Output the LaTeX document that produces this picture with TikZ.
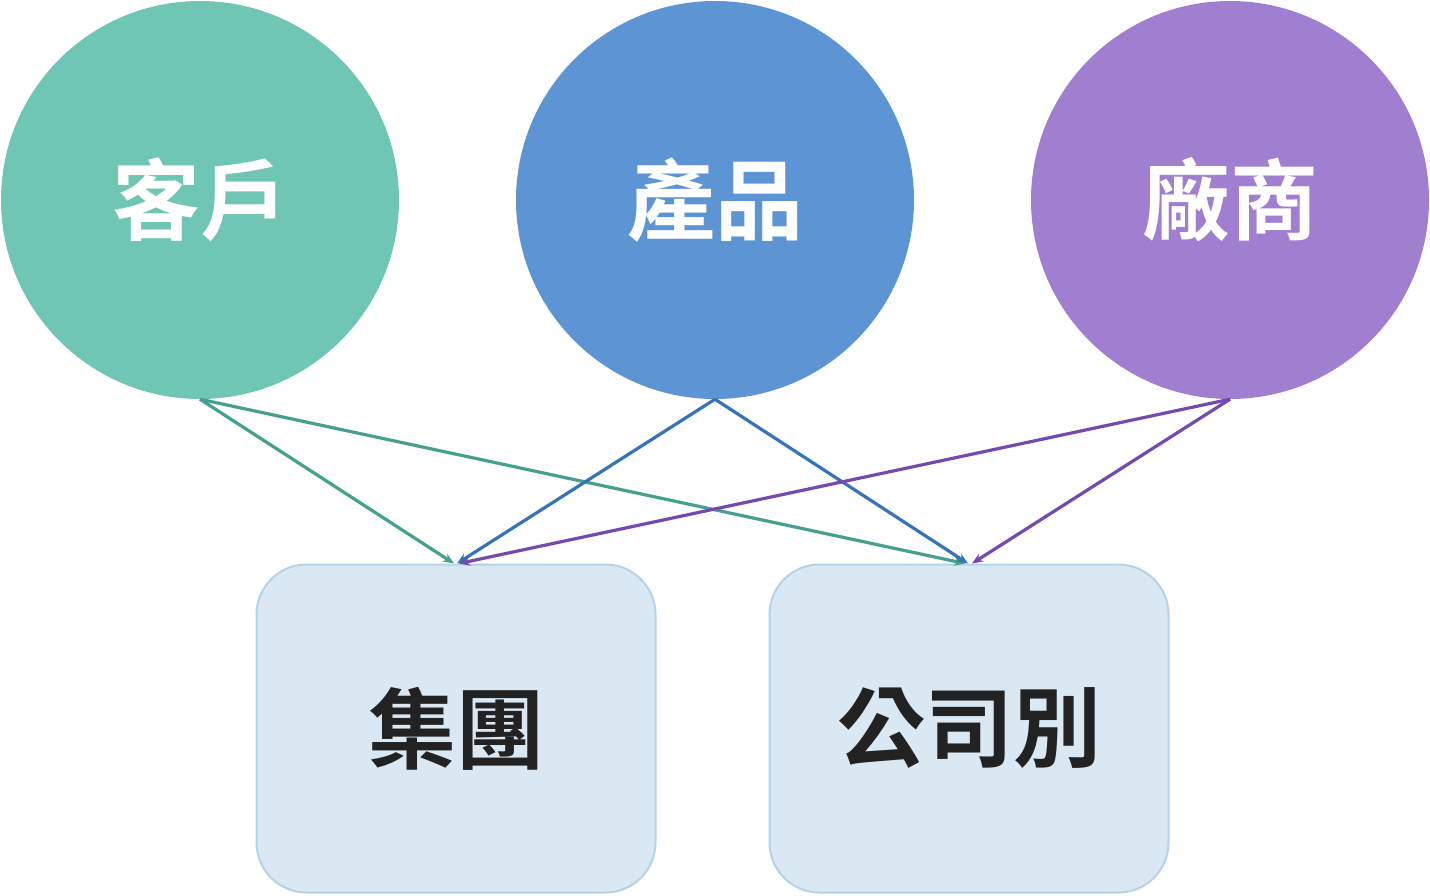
\documentclass[tikz,border=0pt]{standalone}
\usepackage{fontspec}
\newfontfamily\cjk{Noto Sans CJK TC}[BoldFont={Noto Sans CJK TC Bold}]
\usetikzlibrary{arrows.meta}
\definecolor{tealF}{HTML}{6FC6B5}
\definecolor{tealL}{HTML}{45A08D}
\definecolor{blueF}{HTML}{5D95D4}
\definecolor{blueL}{HTML}{3574B8}
\definecolor{purpF}{HTML}{A07FD0}
\definecolor{purpL}{HTML}{7449B0}
\definecolor{boxF}{HTML}{DAE8F4}
\definecolor{boxD}{HTML}{B5D3E8}
\definecolor{txtD}{HTML}{222222}
\tikzset{
  bubble/.style={circle,minimum size=398pt,inner sep=0pt,text=white,font=\cjk\bfseries\fontsize{88pt}{94pt}\selectfont},
  target/.style={rectangle,rounded corners=50pt,draw=boxD,line width=2pt,fill=boxF,minimum width=399pt,minimum height=328pt,inner sep=0pt,text=txtD,font=\cjk\bfseries\fontsize{88pt}{94pt}\selectfont},
  link/.style={line width=3.2pt,-{Stealth[length=11pt,width=9pt]}},
}
\begin{document}
\begin{tikzpicture}[x=1pt,y=-1pt]
\useasboundingbox (0,0) rectangle (1430,895);
\node[bubble,fill=tealF] (cust) at (200,200) {客戶};
\node[bubble,fill=blueF] (prod) at (715,200) {產品};
\node[bubble,fill=purpF] (vend) at (1230,200) {廠商};
\node[target] (grp) at (456,728.5) {集團};
\node[target] (co) at (969,728.5) {公司別};
\draw[link,tealL] (cust.south) -- ([xshift=-2pt]grp.north);
\draw[link,tealL] (cust.south) -- ([xshift=-4pt]co.north);
\draw[link,blueL] (prod.south) -- ([xshift=1pt]grp.north);
\draw[link,blueL] (prod.south) -- ([xshift=-1pt]co.north);
\draw[link,purpL] (vend.south) -- ([xshift=3pt]grp.north);
\draw[link,purpL] (vend.south) -- ([xshift=3pt]co.north);
\end{tikzpicture}
\end{document}
